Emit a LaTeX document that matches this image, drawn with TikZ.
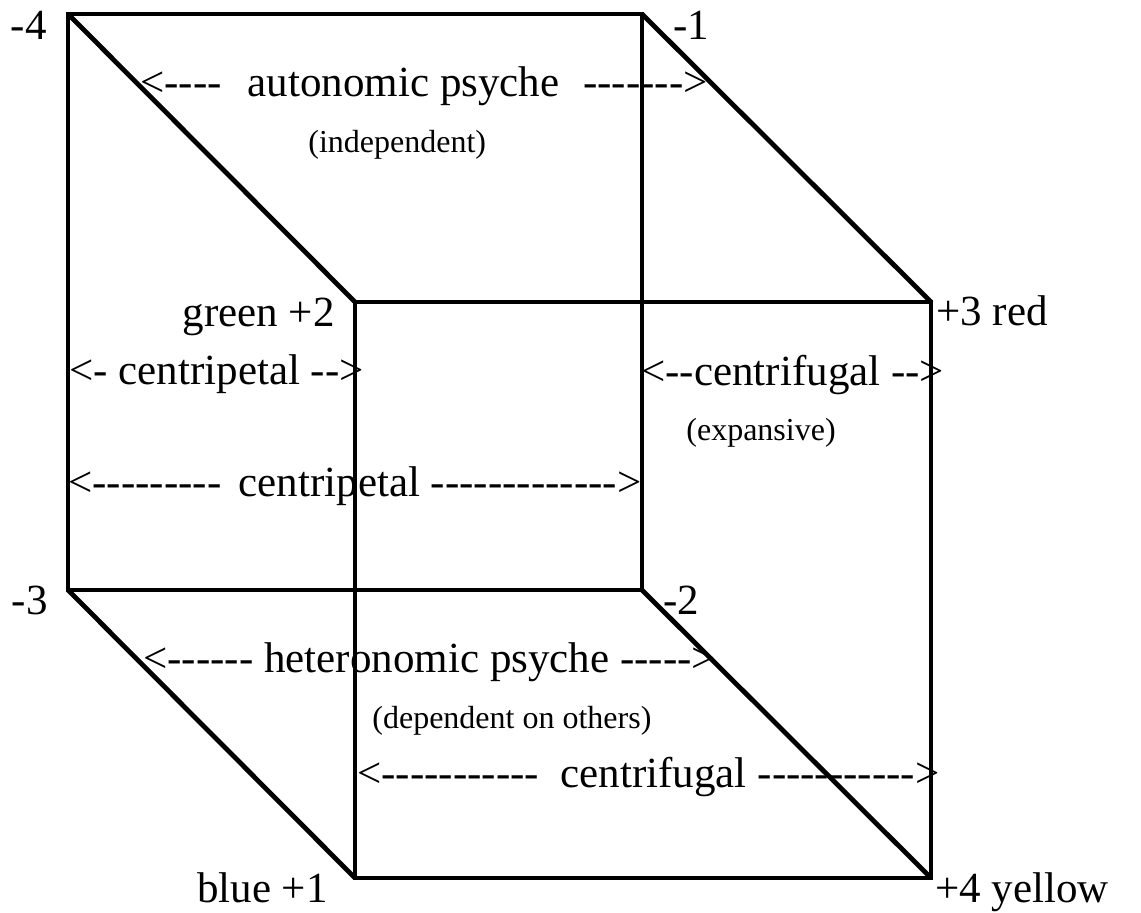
\documentclass[tikz,border=0pt]{standalone}
\usepackage{fontspec}
\setmainfont{Liberation Serif}[Ligatures=TeXOff]

\begin{document}
\begin{tikzpicture}[x=0.5pt, y=-0.5pt,
    edge/.style={line width=2.4pt, line join=miter},
    big/.style={font=\fontsize{21.5}{24}\selectfont, inner sep=0pt},
    small/.style={font=\fontsize{16}{18}\selectfont, inner sep=0pt}]
    \useasboundingbox (0,0) rectangle (1141,913);

    % Corners of the cube
    \coordinate (m4) at (68,14);
    \coordinate (m1) at (642,14);
    \coordinate (m2) at (642,590);
    \coordinate (m3) at (68,590);
    \coordinate (p2) at (355,302);
    \coordinate (p3) at (931,302);
    \coordinate (p4) at (931,878);
    \coordinate (p1) at (355,878);

    % Back and front squares, then the slanted edges
    \draw[edge] (m4) -- (m1) -- (m2) -- (m3) -- cycle;
    \draw[edge] (p2) -- (p3) -- (p4) -- (p1) -- cycle;
    \draw[edge] (m4) -- (p2);
    \draw[edge] (m1) -- (p3);
    \draw[edge] (m3) -- (p1);
    \draw[edge] (m2) -- (p4);

    % Corner labels
    \node[big, anchor=base east] (lm4) at (47,40) {-4};
    \node[big, anchor=base west] (lm1) at (673,40) {-1};
    \node[big, anchor=base east] (lm3) at (48,615) {-3};
    \node[big, anchor=base west] (lm2) at (663,615) {-2};
    \node[big, anchor=base east] (lp2) at (335,327) {green +2};
    \node[big, anchor=base west] (lp3) at (936,326) {+3 red};
    \node[big, anchor=base east] (lp1) at (328,903) {blue +1};
    \node[big, anchor=base west] (lp4) at (935,903) {+4 yellow};

    % Top face
    \node[big, anchor=base west] (auto) at (140,97)
        {<----\hspace{.6em}autonomic psyche\hspace{.55em}------->};
    \node[small, anchor=base west] (indep) at (308,153) {(independent)};

    % Left and right faces
    \node[big, anchor=base west] (cpa) at (69,385) {<- centripetal -->};
    \node[big, anchor=base west] (cfa) at (641,386) {<--centrifugal -->};
    \node[small, anchor=base west] (expan) at (686,441) {(expansive)};
    \node[big, anchor=base west] (cpb) at (68,497)
        {<---------\hspace{.4em}centripetal ------------->};

    % Bottom face
    \node[big, anchor=base west] (hetero) at (143,673)
        {<------ heteronomic psyche ----->};
    \node[small, anchor=base west] (depend) at (372,729) {(dependent on others)};
    \node[big, anchor=base west] (cfb) at (357,788)
        {<-----------\hspace{.5em}centrifugal ----------->};
\end{tikzpicture}
\end{document}
